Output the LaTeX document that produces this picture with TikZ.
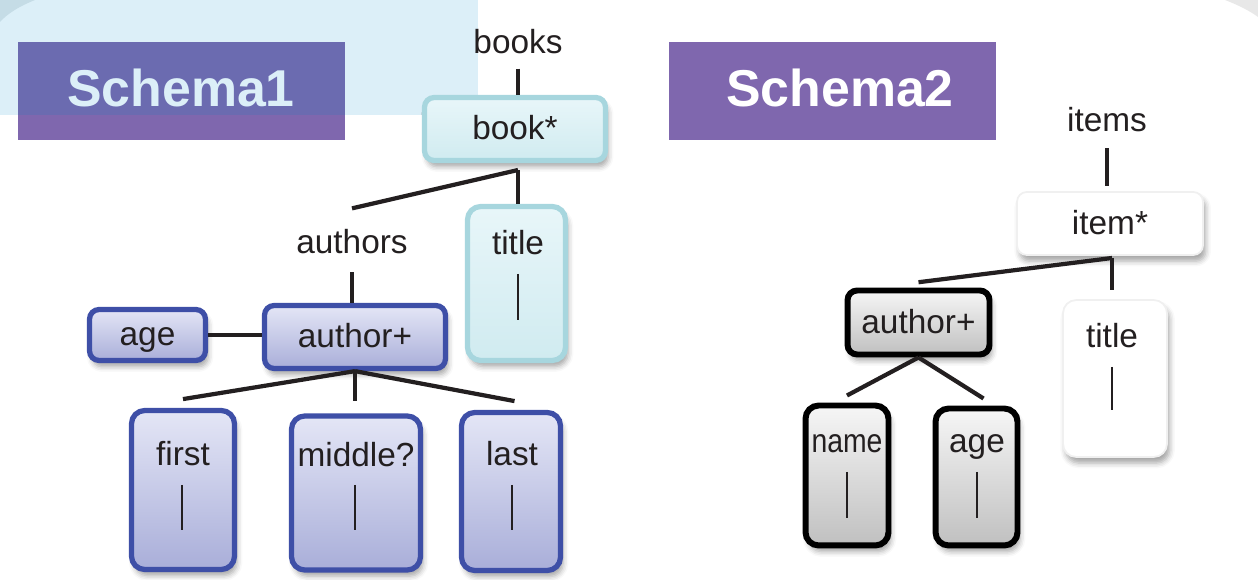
\documentclass[tikz,border=0pt]{standalone}
\usepackage{fontspec}
\setmainfont{Liberation Sans}
\usetikzlibrary{shadows,shadows.blur}

\definecolor{bgblue}{HTML}{DCEFF8}
\definecolor{bgarc}{HTML}{C5DCE6}
\definecolor{purp}{HTML}{7F67AE}
\definecolor{purpdark}{HTML}{6B6BB0}
\definecolor{bluedge}{HTML}{3E4FA7}
\definecolor{bluetop}{HTML}{E4E6F6}
\definecolor{bluebot}{HTML}{A9AED9}
\definecolor{tealedge}{HTML}{A7D6DE}
\definecolor{tealtop}{HTML}{E8F6F9}
\definecolor{tealbot}{HTML}{D0EBF0}
\definecolor{greytop}{HTML}{F6F6F6}
\definecolor{greybot}{HTML}{C0C0C0}
\definecolor{linkcol}{HTML}{231F20}

\begin{document}
\begin{tikzpicture}[x=0.02cm, y=-0.02cm,
  lbl/.style={font=\fontsize{19}{22}\selectfont, text=linkcol, inner sep=0pt, anchor=base},
  heading/.style={font=\fontsize{29.5}{34}\selectfont\bfseries, inner sep=0pt, anchor=base},
  box/.style={rounded corners=5.5pt, line width=3pt, inner sep=0pt, text=linkcol,
    font=\fontsize{19}{22}\selectfont, text height=16pt, text depth=4pt,
    blur shadow={shadow xshift=1.5pt, shadow yshift=-3.5pt, shadow blur radius=3pt, shadow opacity=35}},
  leaf/.style={rounded corners=7.5pt},
  bluebox/.style={box, draw=bluedge, top color=bluetop, bottom color=bluebot},
  tealbox/.style={box, draw=tealedge, top color=tealtop, bottom color=tealbot},
  greybox/.style={box, draw=black, line width=3.4pt, top color=greytop, bottom color=greybot},
  whitebox/.style={box, draw=black!6, line width=1pt, fill=white},
  link/.style={draw=linkcol, line width=2.4pt},
  bar/.style={draw=linkcol, line width=1.2pt}]
  \useasboundingbox (0,0) rectangle (1258,580);

  % background
  \fill[bgblue] (0,0) rectangle (478,115);
  \fill[bgarc] (0,0) -- (35,0) .. controls (20,6) and (8,13) .. (0,22) -- cycle;
  \fill[black!9] (1225,0) .. controls (1238,5) and (1250,11) .. (1258,17) -- (1258,0) -- cycle;

  % banners
  \fill[purp] (18,115) rectangle (345,140);
  \fill[purpdark] (18,42) rectangle (345,115);
  \node[heading, text=bgblue] (schema1) at (181,107) {Schema1};
  \fill[purp] (669,42) rectangle (996,140);
  \node[heading, text=white] (schema2) at (840,107) {Schema2};

  % Schema1
  \node[lbl] (books) at (518,54) {books};
  \node[tealbox, minimum width=3.62cm, minimum height=1.26cm] (book) at (515,129) {book*};
  \node[lbl] (authors) at (352,254) {authors};
  \node[tealbox, leaf, minimum width=1.96cm, minimum height=3.08cm] (title) at (516.5,283.5) {};
  \node[lbl] (titlelbl) at (518,255) {title};
  \node[bluebox, minimum width=3.62cm, minimum height=1.26cm] (author) at (355,337) {author+};
  \node[bluebox, minimum width=2.32cm, minimum height=1.02cm] (age) at (147.5,335) {age};
  \node[bluebox, leaf, minimum width=2.06cm, minimum height=3.18cm] (first) at (183,490) {};
  \node[bluebox, leaf, minimum width=2.58cm, minimum height=3.08cm] (middle) at (356,493) {};
  \node[bluebox, leaf, minimum width=1.98cm, minimum height=3.16cm] (last) at (511,491.5) {};
  \node[lbl] (firstlbl) at (183,466) {first};
  \node[lbl] (middlelbl) at (356,467) {middle?};
  \node[lbl] (lastlbl) at (512,466) {last};

  \coordinate (bk) at (518,170);
  \draw[link] ([yshift=-8pt]books.south) -- (books.south |- book.north);
  \draw[link] (bk) -- ([yshift=12pt]authors.north);
  \draw[link] (bk) -- (bk |- title.north);
  \draw[link] ([yshift=-10pt]authors.south) -- (authors.south |- author.north);
  \draw[link] (age.east) -- (age.east -| author.west);
  \draw[link] (author.south) -- ([yshift=5pt]first.north);
  \draw[link] (author.south) -- ([yshift=7pt]author.south |- middle.north);
  \draw[link] (author.south) -- ([xshift=2pt, yshift=5pt]last.north);
  \draw[bar] (518,274) -- (518,320);
  \draw[bar] (182,485) -- (182,530);
  \draw[bar] (355,485) -- (355,530);
  \draw[bar] (512,485) -- (512,530);

  % Schema2
  \node[lbl] (items) at (1107,132) {items};
  \node[whitebox, minimum width=3.72cm, minimum height=1.26cm] (item) at (1110,223.5) {item*};
  \node[greybox, minimum width=2.84cm, minimum height=1.28cm] (author2) at (918.5,322.5) {author+};
  \node[greybox, leaf, minimum width=1.66cm, minimum height=2.8cm] (name) at (847,475.5) {};
  \node[greybox, leaf, minimum width=1.64cm, minimum height=2.74cm] (age2) at (976.5,477) {};
  \node[whitebox, leaf, minimum width=2.08cm, minimum height=3.14cm] (title2) at (1115,378.5) {};
  \node[lbl] (namelbl) at (847,453) {\scalebox{0.85}[1]{name}};
  \node[lbl] (age2lbl) at (977,453) {age};
  \node[lbl] (title2lbl) at (1112,348) {title};

  \coordinate (it) at (1112,258);
  \draw[link] ([yshift=-9pt]items.south) -- ([yshift=3pt]items.south |- item.north);
  \draw[link] (it) -- ([yshift=3pt]author2.north);
  \draw[link] (it) -- ([yshift=5pt]it |- title2.north);
  \draw[link] (author2.south) -- ([yshift=4pt]name.north);
  \draw[link] (author2.south) -- ([xshift=4pt, yshift=4pt]age2.north);
  \draw[bar] (847,472) -- (847,518);
  \draw[bar] (977,472) -- (977,518);
  \draw[bar] (1112,367) -- (1112,410);
\end{tikzpicture}
\end{document}
